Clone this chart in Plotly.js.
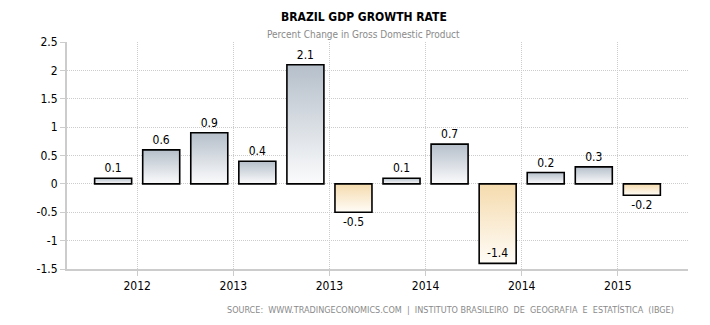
<!DOCTYPE html>
<html>
<head>
<meta charset="utf-8">
<script src="https://cdn.plot.ly/plotly-3.0.1.min.js"></script>
<style>
html,body{margin:0;padding:0;background:#fff;}
#chart{width:710px;height:325px;}
</style>
</head>
<body>
<div id="chart"></div>
<script>
// Data
const quarterIndex = [0,1,2,3,4,5,6,7,8,9,10,11];
const growthValues = [0.1, 0.6, 0.9, 0.4, 2.1, -0.5, 0.1, 0.7, -1.4, 0.2, 0.3, -0.2];
const valueLabels = ["0.1","0.6","0.9","0.4","2.1","-0.5","0.1","0.7","-1.4","0.2","0.3","-0.2"];
const tickPositions = [0.5, 2.5, 4.5, 6.5, 8.5, 10.5];
const tickLabels = ["2012","2013","2013","2014","2014","2015"];
const yTicks = [2.5, 2, 1.5, 1, 0.5, 0, -0.5, -1, -1.5];
const yTickLabels = ["2.5","2","1.5","1","0.5","0","-0.5","-1","-1.5"];

const FONT = "Tahoma, 'DejaVu Sans Condensed', 'DejaVu Sans', sans-serif";

const textPositions = growthValues.map(v => v < -1.2 ? "inside" : "outside");

const trace = {
  type: "bar",
  x: quarterIndex,
  y: growthValues,
  text: valueLabels,
  textposition: textPositions,
  insidetextanchor: "end",
  textangle: 0,
  cliponaxis: false,
  textfont: {family: FONT, size: 12, color: "#000"},
  insidetextfont: {family: FONT, size: 12, color: "#000"},
  outsidetextfont: {family: FONT, size: 12, color: "#000"},
  width: 0.77,
  marker: {color: "#d0d6dd", line: {color: "#000", width: 1.6}},
  hoverinfo: "none"
};

const layout = {
  width: 710, height: 325,
  margin: {l: 67, r: 22, t: 42, b: 56},
  paper_bgcolor: "#fff",
  plot_bgcolor: "#fff",
  showlegend: false,
  font: {family: FONT, size: 12, color: "#000"},
  xaxis: {
    range: [-0.96, 11.96],
    tickmode: "array",
    tickvals: tickPositions,
    ticktext: tickLabels,
    showgrid: true,
    gridcolor: "#cccccc",
    griddash: "1px,1px",
    gridwidth: 1,
    zeroline: false,
    showline: true,
    linecolor: "#cccccc",
    linewidth: 2,
    ticks: "outside",
    ticklen: 5,
    tickcolor: "#cccccc",
    tickfont: {family: FONT, size: 12, color: "#000"},
    fixedrange: true
  },
  yaxis: {
    range: [-1.5, 2.5],
    tickmode: "array",
    tickvals: yTicks,
    ticktext: yTickLabels,
    showgrid: true,
    gridcolor: "#cccccc",
    griddash: "1px,1px",
    gridwidth: 1,
    zeroline: false,
    showline: true,
    linecolor: "#cccccc",
    linewidth: 2,
    ticks: "outside",
    ticklen: 5,
    tickcolor: "#cccccc",
    tickfont: {family: FONT, size: 12, color: "#000"},
    fixedrange: true
  },
  annotations: [
    {text: "<b>BRAZIL GDP GROWTH RATE</b>", xref: "paper", yref: "paper", x: 0.478, y: 1, xanchor: "center", yanchor: "bottom", yshift: 16, showarrow: false,
     font: {family: FONT, size: 12, color: "#000"}},
    {text: "Percent Change in Gross Domestic Product", xref: "paper", yref: "paper", x: 0.478, y: 1, xanchor: "center", yanchor: "bottom", yshift: 0, showarrow: false,
     font: {family: FONT, size: 10, color: "#8a8a8a"}},
    {text: "SOURCE:  WWW.TRADINGECONOMICS.COM  |  INSTITUTO BRASILEIRO  DE  GEOGRAFIA  E  ESTATÍSTICA  (IBGE)", xref: "paper", yref: "paper", x: 0.618, y: 0, xanchor: "center", yanchor: "top", yshift: -33, showarrow: false,
     font: {family: FONT, size: 9, color: "#8a8a8a"}}
  ]
};

Plotly.newPlot("chart", [trace], layout, {displayModeBar: false, staticPlot: true}).then(function(gd){
  const svgNS = "http://www.w3.org/2000/svg";
  const svg = gd.querySelector("svg.main-svg");
  let defs = svg.querySelector("defs");
  if (!defs) { defs = document.createElementNS(svgNS, "defs"); svg.insertBefore(defs, svg.firstChild); }
  function grad(id, top, bottom) {
    const g = document.createElementNS(svgNS, "linearGradient");
    g.setAttribute("id", id);
    g.setAttribute("x1", "0"); g.setAttribute("y1", "0");
    g.setAttribute("x2", "0"); g.setAttribute("y2", "1");
    const s1 = document.createElementNS(svgNS, "stop");
    s1.setAttribute("offset", "0"); s1.setAttribute("stop-color", top);
    const s2 = document.createElementNS(svgNS, "stop");
    s2.setAttribute("offset", "1"); s2.setAttribute("stop-color", bottom);
    g.appendChild(s1); g.appendChild(s2);
    defs.appendChild(g);
  }
  grad("gradPos", "#b5bfca", "#fbfbfc");
  grad("gradNeg", "#f5dbae", "#fffcf7");
  const paths = gd.querySelectorAll(".trace.bars .point path");
  paths.forEach(function(p, i){
    p.style.fill = growthValues[i] >= 0 ? "url(#gradPos)" : "url(#gradNeg)";
  });
});
</script>
</body>
</html>
